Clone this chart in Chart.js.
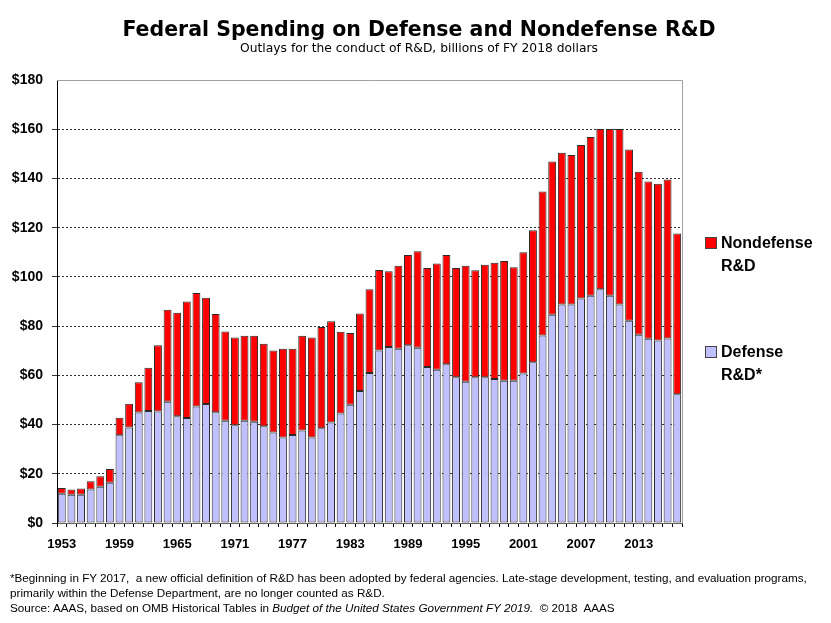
<!DOCTYPE html>
<html>
<head>
<meta charset="utf-8">
<script src="https://cdn.jsdelivr.net/npm/chart.js@4.4.1/dist/chart.umd.min.js"></script>
<style>
  body { margin: 0; background: #fff; }
  #wrap { position: relative; width: 831px; height: 623px; overflow: hidden; font-family: "Liberation Sans", Arial, sans-serif; }
  #chart { position: absolute; left: 0; top: 0; }
  .title { position: absolute; left: 0; width: 838px; text-align: center; top: 16px; font-family: "DejaVu Sans", sans-serif; font-size: 20.5px; font-weight: bold; color: #000; line-height: 26px; }
  .subtitle { position: absolute; left: 0; width: 838px; text-align: center; top: 40px; font-family: "DejaVu Sans", sans-serif; font-size: 12.3px; color: #000; line-height: 16px; }
  .legend { position: absolute; left: 705px; font-size: 16px; font-weight: bold; line-height: 23px; color: #000; }
  .legend .box { position: absolute; left: 0; top: 6px; width: 10px; height: 10px; border: 1px solid #444; }
  .legend .txt { position: absolute; left: 16px; top: 0; white-space: nowrap; }
  .foot { position: absolute; left: 10px; top: 570px; font-size: 11.7px; line-height: 15px; color: #000; white-space: nowrap; }
</style>
</head>
<body>
<div id="wrap">
  <canvas id="chart" width="831" height="623"></canvas>
  <div class="title">Federal Spending on Defense and Nondefense R&amp;D</div>
  <div class="subtitle">Outlays for the conduct of R&amp;D, billions of FY 2018 dollars</div>
  <div class="legend" style="top:231px"><div class="box" style="background:#ff0000"></div><div class="txt">Nondefense<br>R&amp;D</div></div>
  <div class="legend" style="top:340px"><div class="box" style="background:#c0c0ff"></div><div class="txt">Defense<br>R&amp;D*</div></div>
  <div class="foot">*Beginning in FY 2017,&nbsp; a new official definition of R&amp;D has been adopted by federal agencies. Late-stage development, testing, and evaluation programs,<br>primarily within the Defense Department, are no longer counted as R&amp;D.<br>Source: AAAS, based on OMB Historical Tables in <i>Budget of the United States Government FY 2019.</i>&nbsp; © 2018&nbsp; AAAS</div>
</div>
<script>
'use strict';
/* ---------------------------------------------------------------- DATA */
const years = [];
for (let y = 1953; y <= 2017; y++) years.push(String(y));
// fiscal years on the x axis

const yearLabels = ['1953', '1959', '1965', '1971', '1977', '1983', '1989', '1995', '2001', '2007', '2013'];
// only these years get a printed label

const defenseRD = [
  11.9, 11.5, 11.5, 13.6, 14.7, 16.4, 35.7, 38.8, 44.9, 45.5,
  45.3, 49.3, 43.4, 42.7, 47.3, 48.4, 45.0, 41.5, 39.7, 41.5,
  41.1, 39.3, 36.8, 34.7, 35.8, 37.6, 34.7, 38.5, 40.8, 44.5,
  48.0, 53.6, 60.9, 70.1, 71.5, 70.8, 72.2, 71.2, 63.4, 62.3,
  64.5, 59.2, 57.4, 59.2, 59.2, 58.5, 57.8, 57.8, 60.7, 65.3,
  76.2, 84.6, 88.8, 88.8, 91.2, 92.3, 95.0, 92.3, 88.8, 82.2,
  76.5, 74.9, 74.2, 75.0, 52.3
];
// 1953 - 2017, billions of FY2018 dollars

const nondefenseRD = [
  2.3, 2.1, 2.5, 3.4, 4.3, 5.5, 7.1, 9.7, 12.3, 17.6,
  26.9, 37.3, 42.0, 47.3, 46.2, 43.1, 39.9, 36.3, 35.7, 34.6,
  35.0, 33.5, 33.3, 36.1, 35.0, 38.5, 40.7, 41.1, 41.2, 33.2,
  29.2, 31.5, 34.1, 32.7, 30.8, 33.7, 36.7, 39.2, 40.2, 43.1,
  44.4, 44.4, 47.1, 43.5, 45.7, 47.2, 48.7, 46.1, 49.3, 53.6,
  58.5, 62.3, 61.6, 60.7, 62.4, 64.5, 65.1, 67.8, 71.3, 69.6,
  66.2, 63.9, 63.6, 64.6, 65.3
];

const yMax = 180;
const yStep = 20;

/* ---------------------------------------------------------------- PLUGINS */
const plotFrame = {
  id: 'plotFrame',
  afterDatasetsDraw(chart) {
    const a = chart.chartArea;
    const ctx = chart.ctx;
    ctx.save();
    ctx.strokeStyle = '#a0a0a0';
    ctx.lineWidth = 1;
    ctx.beginPath();
    ctx.moveTo(a.left, a.top + 0.5);
    ctx.lineTo(a.right + 0.5, a.top + 0.5);
    ctx.lineTo(a.right + 0.5, a.bottom);
    ctx.stroke();
    ctx.restore();
  }
};
// solid grey line on top and right of the plot, like the original

/* ---------------------------------------------------------------- CHART */
const ctx = document.getElementById('chart').getContext('2d');
const tickFont = { family: '"Liberation Sans", Arial, sans-serif', weight: 'bold', size: 14 };

new Chart(ctx, {
  type: 'bar',
  data: {
    labels: years,
    datasets: [{
      label: 'Defense R&D*',
      data: defenseRD,
      backgroundColor: '#c0c0ff',
      borderColor: '#2a2a2a',
      borderWidth: 1,
      borderSkipped: false,
      barPercentage: 0.82,
      categoryPercentage: 1.0
    }, {
      label: 'Nondefense R&D',
      data: nondefenseRD,
      backgroundColor: '#ff0000',
      borderColor: '#2a2a2a',
      borderWidth: 1,
      borderSkipped: false,
      barPercentage: 0.82,
      categoryPercentage: 1.0
    }]
  },
  options: {
    responsive: false,
    animation: false,
    devicePixelRatio: 1,
    layout: { padding: { left: 0, top: 80, right: 149, bottom: 60 } },
    plugins: {
      legend: { display: false },
      tooltip: { enabled: false }
    },
    scales: {
      x: {
        stacked: true,
        afterFit(scale) { scale.height = 40; },
        grid: {
          drawOnChartArea: false,
          drawTicks: true,
          tickLength: 4,
          color: '#000'
        },
        border: { color: '#606060', width: 1 },
        ticks: {
          autoSkip: false,
          maxRotation: 0,
          padding: 10,
          color: '#000',
          font: { family: '"Liberation Sans", Arial, sans-serif', weight: 'bold', size: 13 },
          callback(value, index) {
            const lbl = years[index];
            return yearLabels.indexOf(lbl) > -1 ? lbl : '';
          }
        }
      },
      y: {
        stacked: true,
        min: 0,
        max: yMax,
        afterFit(scale) { scale.width = 57; },
        grid: {
          color(c) { return c.tick && c.tick.value === yMax ? 'rgba(0,0,0,0)' : '#333'; },
          lineWidth: 1,
          tickLength: 5
        },
        border: { color: '#000', width: 1, dash: [2, 2] },
        ticks: {
          stepSize: yStep,
          padding: 9,
          color: '#000',
          font: tickFont,
          callback(v) { return '$' + v; }
        }
      }
    }
  },
  plugins: [plotFrame]
});
</script>
</body>
</html>
